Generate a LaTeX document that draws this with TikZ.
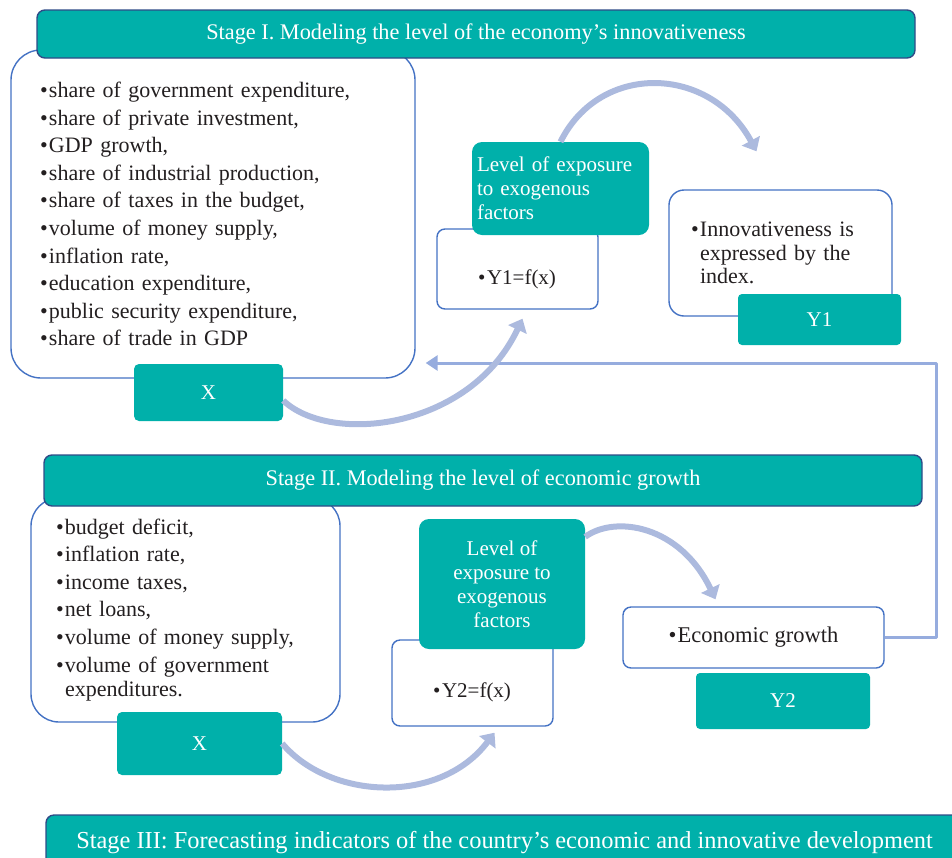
\documentclass[tikz,border=0pt]{standalone}
\usepackage{fontspec}
\setmainfont{Liberation Serif}
\usetikzlibrary{arrows.meta}
\definecolor{tealbox}{RGB}{0,176,170}
\definecolor{boxline}{RGB}{68,114,196}
\definecolor{hdrline}{RGB}{47,75,135}
\definecolor{flowarc}{RGB}{172,186,222}
\definecolor{backline}{RGB}{150,172,222}
\definecolor{txt}{RGB}{35,31,32}
\newcommand{\itm}{\makebox[9pt][l]{•}}
\newcommand{\hng}{\hspace*{9pt}}
\tikzset{
  stagebox/.style={draw=hdrline,line width=1.4pt,fill=tealbox,rounded corners=8pt,text=white,inner sep=0pt,font=\fontsize{22.3}{25}\selectfont},
  listbox/.style={draw=boxline,line width=1.4pt,fill=white,inner ysep=0pt,text=txt,align=left,font=\fontsize{22}{27.6}\selectfont},
  tagbox/.style={fill=tealbox,rounded corners=5pt,text=white,inner sep=0pt,font=\fontsize{21}{24}\selectfont},
  plain/.style={text=txt,inner sep=0pt,font=\fontsize{21}{23.5}\selectfont},
  flow/.style={flowarc,line width=6pt,-{Triangle[width=20pt,length=12pt]}},
  back/.style={backline,line width=3pt,-{Triangle[width=15pt,length=12pt]}},
}
\begin{document}
\begin{tikzpicture}[x=1pt,y=-1pt,line join=round]
\clip (0,0) rectangle (952,857);
%% Stage I
  \node (lstI) at (213,214) [listbox,rounded corners=30pt,inner xsep=29pt,text width=346pt,minimum height=328pt] {\itm share of government expenditure,\\\itm share of private investment,\\\itm GDP growth,\\\itm share of industrial production,\\\itm share of taxes in the budget,\\\itm volume of money supply,\\\itm inflation rate,\\\itm education expenditure,\\\itm public security expenditure,\\\itm share of trade in GDP};
  \node (hdrI) at (476,34) [stagebox,minimum width=878pt,minimum height=48pt] {Stage I. Modeling the level of the economy’s innovativeness};
  \node (xI) at (208.5,392.5) [tagbox,minimum width=149pt,minimum height=57pt] {X};
  \node (fI) at (517.5,269) [listbox,rounded corners=8pt,minimum width=161pt,minimum height=80pt] {};
  \node (fItxt) at (517,279) [plain] {\itm Y1=f(x)};
  \node (lvlI) at (560.5,188.5) [tagbox,rounded corners=10pt,align=left,inner xsep=5pt,text width=167pt,minimum height=93pt] {Level of exposure\\to exogenous\\factors};
  \node (inI) at (780.5,253) [listbox,rounded corners=15pt,inner xsep=22pt,text width=179pt,minimum height=126pt,font=\fontsize{22}{23.5}\selectfont] {\itm Innovativeness is\\\hng expressed by the\\\hng index.};
  \node (yI) at (819.5,319.5) [tagbox,rounded corners=4pt,minimum width=163pt,minimum height=51pt] {Y1};
%% Stage II
  \node (lstII) at (185.5,610) [listbox,rounded corners=28pt,inner xsep=25pt,text width=259pt,minimum height=224pt] {\itm budget deficit,\\\itm inflation rate,\\\itm income taxes,\\\itm net loans,\\\itm volume of money supply,\\\itm volume of government\\[-3pt]\hng expenditures.};
  \node (hdrII) at (483,480.5) [stagebox,minimum width=878pt,minimum height=51pt] {Stage II. Modeling the level of economic growth};
  \node (xII) at (199.5,743.5) [tagbox,minimum width=165pt,minimum height=63pt] {X};
  \node (fII) at (472.5,683) [listbox,rounded corners=8pt,minimum width=161pt,minimum height=86pt] {};
  \node (fIItxt) at (472,692) [plain] {\itm Y2=f(x)};
  \node (lvlII) at (502,584) [tagbox,rounded corners=10pt,align=center,minimum width=166pt,minimum height=130pt] {Level of\\exposure to\\exogenous\\factors};
  \node (eco) at (753.5,637.5) [listbox,rounded corners=8pt,minimum width=261pt,minimum height=61pt,align=center,font=\fontsize{22.5}{25}\selectfont] {\itm Economic growth};
  \node (yII) at (783,701) [tagbox,rounded corners=4pt,minimum width=174pt,minimum height=56pt] {Y2};
%% Stage III
  \node (hdrIII) at (504.5,842.5) [stagebox,minimum width=917pt,minimum height=55pt,font=\fontsize{24.4}{27}\selectfont] {Stage III: Forecasting indicators of the country’s economic and innovative development};
%% connectors
  \coordinate (bk) at (936,363);
  \draw [back] (eco.east) -| (bk) -- ([xshift=10pt]lstI.east |- bk);
  \draw [flow] (lvlI.north) .. controls (600,62) and (710,65) .. ([xshift=-24pt,yshift=38pt]inI.north);
  \draw [flow] ([yshift=-8pt]xI.east) .. controls (330,445) and (470,430) .. ([xshift=5pt,yshift=-9pt]fI.south);
  \draw [flow] ([yshift=-18pt]lvlII.north east) .. controls (615,515) and (680,525) .. ([xshift=-38pt,yshift=7pt]eco.north);
  \draw [flow] (xII.east) .. controls (330,800) and (440,805) .. ([xshift=22pt,yshift=-6pt]fII.south);
%
\end{tikzpicture}
\end{document}
